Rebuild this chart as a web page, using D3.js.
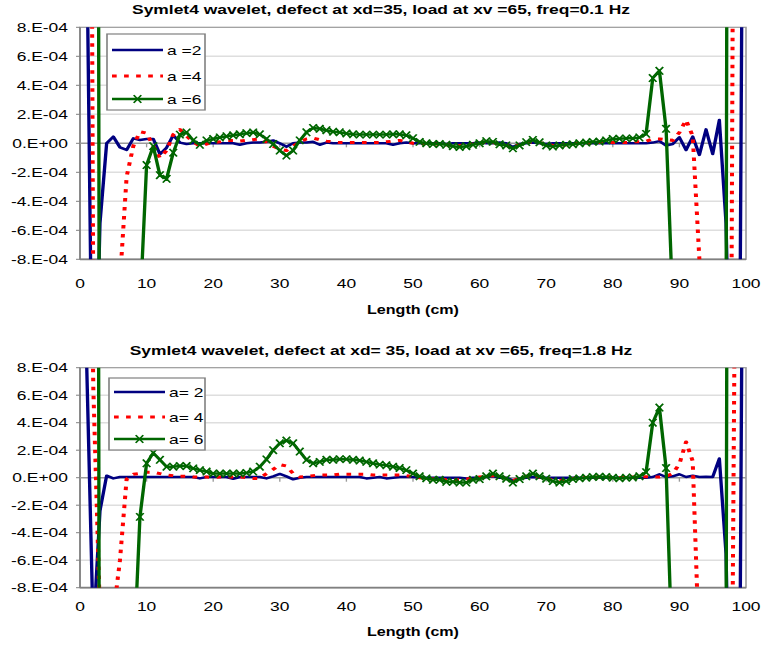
<!DOCTYPE html>
<html><head><meta charset="utf-8">
<script src="https://cdn.jsdelivr.net/npm/d3@7"></script>
<style>body{margin:0;background:#fff}svg{display:block}</style>
</head><body>
<svg id="c" width="762" height="645"></svg>
<script>
// ---------------- data ----------------
const lengthCm = [1,2,3,4,5,6,7,8,9,10,11,12,13,14,15,16,17,18,19,20,21,22,23,24,25,26,27,28,29,30,
 31,32,33,34,35,36,37,38,39,40,41,42,43,44,45,46,47,48,49,50,51,52,53,54,55,56,57,58,59,60,
 61,62,63,64,65,66,67,68,69,70,71,72,73,74,75,76,77,78,79,80,81,82,83,84,85,86,87,88,89,90,
 91,92,93,94,95,96,97,98,99,100];
const VALUE_UNIT = 1e-4; // series values below are in units of 1e-4

const top_a2 = [14.6,-24,-5.5,0,0.46,-0.28,-0.46,0.34,0.23,0.3,
 0.3,-0.75,-0.3,0.55,0.05,-0.05,0,0,0,0,
 0,0,0,-0.1,0,0.05,0.05,0.1,0.2,0,
 -0.23,0,0.05,0.05,0.1,-0.1,0.05,0,0,0,
 0,0,0,0,0,0,-0.1,0,0.05,0,
 0,0,0,0,-0.05,0,0,0,0,0.05,
 0,0,0.05,0,-0.25,-0.05,0,0.05,0,-0.05,
 0,0,0,0,0,0,0,0,0,0,
 0,0,0,0,0,0.05,0.15,-0.15,-0.05,0.41,
 -0.46,0.46,-0.8,0.96,-0.74,1.61,-5.5,-25,-20,60];
const top_a4 = [100,-12,-40,-60,-30,-9.5,-2.3,-0.2,0.8,0.7,
 -0.2,-1.0,-0.5,0.6,0.95,0.5,0.1,-0.2,-0.05,0.05,
 0.1,0.2,0.2,0.15,0.2,0.25,0.3,0.1,-0.2,-0.4,
 -0.5,-0.2,0.1,0.3,0.35,0.25,0.15,0.1,0.05,0.05,
 0.05,0.05,0.05,0.05,0.05,0.1,0.15,0.2,0.1,0,
 -0.05,0,-0.05,-0.05,-0.1,-0.15,-0.15,-0.1,-0.05,0.05,
 0.1,0.05,-0.05,-0.15,-0.25,-0.1,0.05,0.1,0.05,-0.05,
 -0.15,-0.15,-0.1,-0.05,0,0,0.05,0.05,0.05,0.05,
 0.05,0.05,0.1,0.1,0.15,0.3,0.3,0.25,0.2,0.75,
 1.6,0.5,-8,-40,-60,-80,-100,9,60,80];
const top_a6 = [150,200,-40,-80,-100,-100,-80,-60,-11.5,-1.5,
 -0.2,-2.2,-2.45,-0.65,0.6,0.75,0.2,-0.1,0.2,0.3,
 0.4,0.48,0.55,0.62,0.7,0.75,0.62,0.3,-0.05,-0.5,
 -0.85,-0.5,0.2,0.76,1.06,1.0,0.9,0.8,0.76,0.68,
 0.62,0.6,0.6,0.6,0.6,0.6,0.62,0.62,0.55,0.35,
 0.1,0,-0.05,-0.05,-0.1,-0.2,-0.25,-0.2,-0.1,0,
 0.15,0.1,-0.07,-0.15,-0.35,-0.15,0.08,0.23,0.07,-0.15,
 -0.23,-0.15,-0.1,-0.07,0,0.05,0.1,0.12,0.2,0.3,
 0.32,0.34,0.34,0.4,0.65,4.5,5.0,1.0,-11,-60,
 -100,-100,-100,-80,-60,-40,-15,200,150,100];

const bot_a2 = [8.3,-11.3,-2.4,0.15,-0.05,0.05,0.05,0.05,0.05,0.05,
 0.05,0.05,0.05,0.05,0.05,0.05,0.05,-0.05,0.05,0.05,
 0.05,0.05,-0.08,0.05,0.05,0.05,0.05,-0.05,0.1,0.27,
 0.1,-0.12,0,0.05,0.05,0.05,0.05,0.05,0.05,0.05,
 0.05,0.05,-0.05,0,0.05,-0.05,0,0.05,0.05,0.05,
 0,0,0,0,0,0,0,-0.05,0,0,
 0.05,0.1,0,0,-0.2,-0.05,0,0.05,0,0,
 0,0,0,0,0,0,0,0,0,0,
 0,0,0,0,0,0.05,0.25,0.05,0.1,0.25,
 0.05,0.15,0.05,0.07,0.05,1.4,-5.5,-30,-20,60];
const bot_a4 = [40,6.5,-10,-40,-10,-6,-0.1,0.25,0.3,0.4,
 0.4,0.3,0.2,0.15,0.1,0.1,0.05,0.05,0.05,0,
 0.05,0.05,0.05,0.05,0,-0.05,-0.05,0.3,0.6,0.95,
 0.85,0.3,0.05,0.1,0.15,0.2,0.2,0.2,0.25,0.25,
 0.25,0.25,0.25,0.2,0.2,0.2,0.2,0.2,0.15,0.1,
 0,-0.05,-0.1,-0.1,-0.15,-0.15,-0.15,-0.1,-0.05,0.05,
 0.1,0.15,0.05,-0.05,-0.2,-0.05,0.1,0.15,0.05,-0.05,
 -0.15,-0.2,-0.15,-0.05,0,0.02,0.05,0.05,0.05,0.02,
 0.02,0.02,0.05,0.05,0.07,0.05,0.05,0.1,0.3,1.0,
 2.6,1.2,-13,-40,-60,-80,-100,-9,60,80];
const bot_a6 = [150,200,-40,-80,-100,-100,-60,-14,-2.85,1.05,
 1.8,1.3,0.8,0.8,0.85,0.85,0.68,0.55,0.45,0.3,
 0.3,0.3,0.3,0.3,0.35,0.45,0.8,1.33,2.0,2.5,
 2.7,2.5,1.9,1.3,1.05,1.15,1.3,1.3,1.35,1.35,
 1.3,1.25,1.15,1.05,0.95,0.9,0.8,0.7,0.55,0.3,
 0.1,-0.05,-0.15,-0.15,-0.3,-0.3,-0.35,-0.35,-0.15,-0.1,
 0.1,0.3,0.1,-0.07,-0.35,-0.1,0.1,0.3,0.1,-0.07,
 -0.25,-0.35,-0.25,-0.1,-0.05,0,0.05,0.07,0.05,0,
 -0.05,0,0.02,0.1,0.4,4.0,5.1,0.7,-14,-60,
 -100,-100,-100,-80,-60,-40,-15,200,150,100];

const xTicks = [0,10,20,30,40,50,60,70,80,90,100];
const xTickLabels = ["0","10","20","30","40","50","60","70","80","90","100"];
const yTicks = [-8e-4,-6e-4,-4e-4,-2e-4,0,2e-4,4e-4,6e-4,8e-4];
const yTickLabels = ["-8.E-04","-6.E-04","-4.E-04","-2.E-04","0.E+00","2.E-04","4.E-04","6.E-04","8.E-04"];
const topTitle = "Symlet4 wavelet, defect at xd=35, load at xv =65, freq=0.1 Hz";
const botTitle = "Symlet4 wavelet, defect at xd= 35, load at xv =65, freq=1.8 Hz";
const topNames = ["a =2","a =4","a =6"];
const botNames = ["a= 2","a= 4","a= 6"];
const axisTitle = "Length (cm)";

// ---------------- drawing ----------------
const SX = 1.34; // horizontal stretch of the whole picture
const FONT = "'Liberation Sans', Arial, Helvetica, sans-serif";
const svg = d3.select("#c");
const root = svg.append("g").attr("transform", `scale(${SX},1)`);
const X = v => v / SX; // final pixel x -> internal x

const styles = [
  {color:"#000080", width:2.5, dash:null, marker:false},
  {color:"#ff0000", width:3, dash:"3.5,5.5", marker:false},
  {color:"#006600", width:2.5, dash:null, marker:true}
];

const panels = [
  {title: topTitle, titleY: 14, top: 27.3, bottom: 259.3, tickY: 283, axisY: 310,
   names: topNames, data: [top_a2, top_a4, top_a6],
   legend: {x0:107, y0:34, x1:205, y1:110, rows:[50,76,99], l0:112, l1:163, tx:167}},
  {title: botTitle, titleY: 355, top: 367.7, bottom: 587.7, tickY: 606, axisY: 632,
   names: botNames, data: [bot_a2, bot_a4, bot_a6],
   legend: {x0:109, y0:378, x1:205, y1:450, rows:[392,417,439], l0:114, l1:165, tx:169}}
];

const x = d3.scaleLinear().domain([0, 100]).range([X(80), X(746)]);

function markerPath(cx, cy) {
  const hx = 2.8, hy = 3.8;
  return `M${cx-hx},${cy-hy}L${cx+hx},${cy+hy}M${cx-hx},${cy+hy}L${cx+hx},${cy-hy}`;
}

panels.forEach((p, pi) => {
  const y = d3.scaleLinear().domain([-8e-4, 8e-4]).range([p.bottom, p.top]);
  const g = root.append("g");
  const x0 = x.range()[0], x1 = x.range()[1];

  // gridlines
  g.selectAll("line.grid").data(yTicks.filter(t => t !== 0 && Math.abs(t) < 7.9e-4)).enter()
    .append("line").attr("x1", x0).attr("x2", x1)
    .attr("y1", d => y(d)).attr("y2", d => y(d))
    .attr("stroke", "#dedede").attr("stroke-width", 1.5);

  // plot border
  g.append("rect").attr("x", x0).attr("y", p.top).attr("width", x1 - x0).attr("height", p.bottom - p.top)
    .attr("fill", "none").attr("stroke", "#9a9a9a").attr("stroke-width", 1.2);
  g.append("line").attr("x1", x0).attr("x2", x1).attr("y1", p.bottom).attr("y2", p.bottom)
    .attr("stroke", "#808080").attr("stroke-width", 1.8);
  g.append("line").attr("x1", x0).attr("x2", x0).attr("y1", p.top).attr("y2", p.bottom)
    .attr("stroke", "#808080").attr("stroke-width", 1.2);

  // zero axis with tick marks
  g.append("line").attr("x1", x0).attr("x2", x1).attr("y1", y(0)).attr("y2", y(0))
    .attr("stroke", "#9a9a9a").attr("stroke-width", 1.5);
  g.selectAll("line.xt").data(xTicks.slice(1, -1)).enter().append("line")
    .attr("x1", d => x(d)).attr("x2", d => x(d)).attr("y1", y(0)).attr("y2", y(0) + 4)
    .attr("stroke", "#9a9a9a").attr("stroke-width", 1);
  // y ticks
  g.selectAll("line.yt").data(yTicks).enter().append("line")
    .attr("x1", x0 - 3).attr("x2", x0).attr("y1", d => y(d)).attr("y2", d => y(d))
    .attr("stroke", "#808080").attr("stroke-width", 1);

  // y tick labels
  g.selectAll("text.yl").data(yTicks).enter().append("text")
    .attr("x", X(68)).attr("y", d => y(d)).attr("dy", "0.36em")
    .attr("text-anchor", "end").attr("font-family", FONT).attr("font-size", 13)
    .text((d, i) => yTickLabels[i]);
  // x tick labels
  g.selectAll("text.xl").data(xTicks).enter().append("text")
    .attr("x", d => x(d)).attr("y", p.tickY).attr("dy", "0.36em")
    .attr("text-anchor", "middle").attr("font-family", FONT).attr("font-size", 13)
    .text((d, i) => xTickLabels[i]);
  // axis title
  g.append("text").attr("x", (x0 + x1) / 2).attr("y", p.axisY).attr("dy", "0.36em")
    .attr("text-anchor", "middle").attr("font-family", FONT).attr("font-size", 12)
    .attr("font-weight", "bold").text(axisTitle);
  // chart title
  g.append("text").attr("x", X(381)).attr("y", p.titleY)
    .attr("text-anchor", "middle").attr("font-family", FONT).attr("font-size", 13)
    .attr("font-weight", "bold").text(p.title);

  // clip
  const cid = "clip" + pi;
  g.append("clipPath").attr("id", cid).append("rect")
    .attr("x", x0).attr("y", p.top).attr("width", x1 - x0).attr("height", p.bottom - p.top);
  const plot = g.append("g").attr("clip-path", `url(#${cid})`);

  const line = d3.line().x(d => x(d[0])).y(d => y(d[1]));
  p.data.forEach((vals, si) => {
    const st = styles[si];
    const pts = lengthCm.map((c, i) => [c, vals[i] * VALUE_UNIT]);
    plot.append("path").attr("d", line(pts)).attr("fill", "none")
      .attr("stroke", st.color).attr("stroke-width", st.width)
      .attr("stroke-linejoin", "round")
      .attr("stroke-dasharray", st.dash);
    if (st.marker) {
      plot.append("path")
        .attr("d", pts.filter(d => Math.abs(d[1]) <= 8.5e-4).map(d => markerPath(x(d[0]), y(d[1]))).join(""))
        .attr("fill", "none").attr("stroke", st.color).attr("stroke-width", 1.4);
    }
  });

  // legend
  const L = p.legend;
  const lg = g.append("g");
  lg.append("rect").attr("x", X(L.x0)).attr("y", L.y0).attr("width", X(L.x1) - X(L.x0)).attr("height", L.y1 - L.y0)
    .attr("fill", "#fff").attr("stroke", "#808080").attr("stroke-width", 1.2);
  p.names.forEach((nm, si) => {
    const st = styles[si], ry = L.rows[si];
    lg.append("line").attr("x1", X(L.l0)).attr("x2", X(L.l1)).attr("y1", ry).attr("y2", ry)
      .attr("stroke", st.color).attr("stroke-width", st.width).attr("stroke-dasharray", st.dash);
    if (st.marker) {
      lg.append("path").attr("d", markerPath((X(L.l0) + X(L.l1)) / 2, ry))
        .attr("fill", "none").attr("stroke", st.color).attr("stroke-width", 1.4);
    }
    lg.append("text").attr("x", X(L.tx)).attr("y", ry).attr("dy", "0.36em")
      .attr("font-family", FONT).attr("font-size", 13).text(nm);
  });
});
</script>
</body></html>
